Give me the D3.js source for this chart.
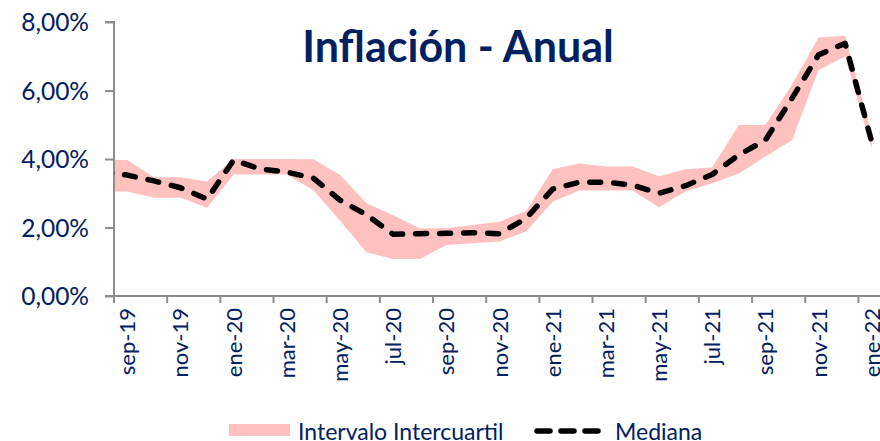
<!DOCTYPE html>
<html lang="es">
<head>
<meta charset="utf-8">
<title>Inflación - Anual</title>
<script src="https://cdn.jsdelivr.net/npm/d3@7"></script>
<style>
	body { margin: 0; background: #fff; }
	svg text { font-family: Lato, "Open Sans", sans-serif; fill: #002060; }
</style>
</head>
<body>
<script>
	// meses (ago-19 queda fuera del eje, solo aporta el tramo inicial)
	var meses = ["ago-19","sep-19","oct-19","nov-19","dic-19","ene-20","feb-20","mar-20","abr-20","may-20",
		"jun-20","jul-20","ago-20","sep-20","oct-20","nov-20","dic-20","ene-21","feb-21","mar-21",
		"abr-21","may-21","jun-21","jul-21","ago-21","sep-21","oct-21","nov-21","dic-21","ene-22"];
	var mediana    = [3.63,3.53,3.36,3.16,2.83,3.97,3.71,3.62,3.44,2.80,2.37,1.80,1.82,1.83,1.85,1.82,2.27,3.12,3.32,3.32,3.24,3.00,3.22,3.55,4.12,4.55,5.77,7.04,7.38,4.50];
	var cuartilInf = [3.05,3.05,2.87,2.87,2.58,3.55,3.55,3.55,3.09,2.20,1.28,1.08,1.08,1.49,1.54,1.59,1.88,2.75,3.08,3.08,3.08,2.59,3.05,3.29,3.58,4.07,4.55,6.60,6.99,4.30];
	var cuartilSup = [3.97,3.97,3.47,3.47,3.34,4.00,4.00,4.00,3.99,3.53,2.71,2.36,1.98,1.98,2.07,2.17,2.48,3.70,3.87,3.78,3.78,3.50,3.70,3.75,4.99,4.99,6.16,7.55,7.60,4.70];
	var yTicks = [0,2,4,6,8];
	// etiquetas cada dos meses
	var etiquetas = meses.filter(function(m,i){ return i % 2 == 1; });

	var w = 880;
	var h = 441;
	var mIzq = 114, mSup = 22, mInf = 296, mDer = 885;
	var paso = (mDer - mIzq) / 29;
	var gris = "#8c8c8c";

	var svg = d3.select("body").append("svg").attr("width", w).attr("height", h);

	var x = d3.scaleBand().domain(meses).range([mIzq - paso, mDer]);
	var y = d3.scaleLinear().domain([0, 8]).range([mInf, mSup]);
	function cx(m){ return x(m) + x.bandwidth() / 2; }

	svg.append("clipPath").attr("id", "plot")
		.append("rect").attr("x", mIzq).attr("y", 0).attr("width", mDer - mIzq).attr("height", mInf);

	var idx = d3.range(meses.length);

	// intervalo intercuartil
	var area = d3.area()
		.x(function(i){ return cx(meses[i]); })
		.y0(function(i){ return y(cuartilInf[i]); })
		.y1(function(i){ return y(cuartilSup[i]); });

	svg.append("path").datum(idx)
		.attr("clip-path", "url(#plot)")
		.attr("d", area)
		.attr("fill", "#ffc0c0");

	// ejes
	var yAxis = d3.axisLeft(y).tickValues(yTicks).tickSize(9).tickPadding(16)
		.tickFormat(function(d){ return d.toFixed(2).replace(".", ",") + "%"; });
	var gy = svg.append("g").attr("transform", "translate(" + mIzq + ",0)").call(yAxis);
	gy.select(".domain").attr("stroke", gris).attr("stroke-width", 2).attr("d", "M-9," + mSup + "H0V" + mInf + "H-9");
	gy.selectAll(".tick line").attr("stroke", gris).attr("stroke-width", 2);
	gy.selectAll(".tick text").style("font-size", "24.5px").attr("dy", "0.35em");

	var gx = svg.append("g");
	gx.append("line").attr("x1", mIzq).attr("x2", w).attr("y1", mInf).attr("y2", mInf)
		.attr("stroke", gris).attr("stroke-width", 2);
	gx.selectAll("line.tk").data(etiquetas).enter().append("line").attr("class", "tk")
		.attr("x1", function(m){ return x(m); }).attr("x2", function(m){ return x(m); })
		.attr("y1", mInf).attr("y2", mInf + 7)
		.attr("stroke", gris).attr("stroke-width", 2);
	gx.selectAll("text").data(etiquetas).enter().append("text")
		.attr("transform", function(m){ return "translate(" + (cx(m) + 8) + "," + (mInf + 12) + ") rotate(-90)"; })
		.attr("text-anchor", "end")
		.style("font-size", "22px")
		.text(function(m){ return m; });

	// mediana
	var linea = d3.line()
		.x(function(i){ return cx(meses[i]); })
		.y(function(i){ return y(mediana[i]); });

	svg.append("path").datum(idx)
		.attr("clip-path", "url(#plot)")
		.attr("d", linea)
		.attr("fill", "none")
		.attr("stroke", "#000")
		.attr("stroke-width", 5.5)
		.attr("stroke-linecap", "round")
		.attr("stroke-linejoin", "round")
		.attr("stroke-dasharray", "11 13");

	// titulo
	svg.append("text").attr("x", 458).attr("y", 62).attr("text-anchor", "middle")
		.style("font-size", "43px").style("font-weight", "bold")
		.text("Inflación - Anual");

	// leyenda
	var lg = svg.append("g");
	lg.append("rect").attr("x", 229).attr("y", 424).attr("width", 61).attr("height", 12).attr("fill", "#ffc0c0");
	lg.append("text").attr("x", 298).attr("y", 440).style("font-size", "23px").text("Intervalo Intercuartil");
	lg.append("line").attr("x1", 537).attr("x2", 600).attr("y1", 431).attr("y2", 431)
		.attr("stroke", "#000").attr("stroke-width", 5.5).attr("stroke-linecap", "round").attr("stroke-dasharray", "13 11");
	lg.append("text").attr("x", 615).attr("y", 440).style("font-size", "23px").text("Mediana");
</script>
</body>
</html>
